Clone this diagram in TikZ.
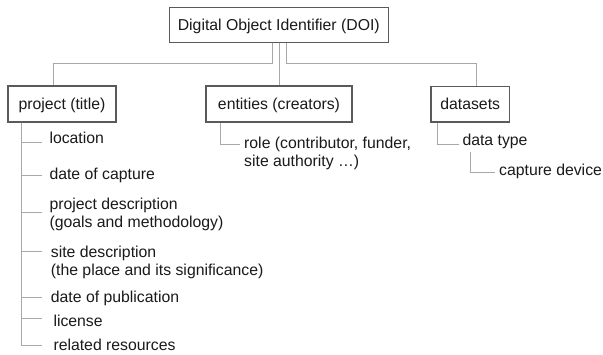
\documentclass[tikz,border=0pt]{standalone}
\usepackage{fontspec}
\setmainfont{Liberation Sans}
\definecolor{ink}{HTML}{1A1A1A}
\definecolor{boxgray}{HTML}{5A5A5A}
\definecolor{linegray}{HTML}{A8A8A8}
\begin{document}
\begin{tikzpicture}[x=1pt, y=-1pt,
  every node/.style={font=\fontsize{15.8pt}{18pt}\selectfont, text=ink},
  box/.style={draw=boxgray, line width=1.1pt, minimum height=36pt,
    inner sep=0pt, text height=12.5pt, text depth=2.5pt},
  item/.style={anchor=base west, inner sep=0pt, align=left},
  conn/.style={draw=linegray, line width=1pt}]
\useasboundingbox[fill=white] (0,0) rectangle (603,354);

% top-level boxes
\node[box, minimum width=219pt, minimum height=35.4pt] (doi) at (278.8,25) {Digital Object Identifier (DOI)};
\node[box, minimum width=108pt] (proj) at (62,104) {project (title)};
\node[box, minimum width=146pt] (ent) at (279,104) {entities (creators)};
\node[box, minimum width=78.5pt, minimum height=35.3pt] (data) at (470.2,104.3) {datasets};

% connectors from the DOI box
\coordinate (jy) at (0,63.5);
\coordinate (o1) at ([xshift=-6.5pt]doi.south);
\coordinate (o2) at ([xshift=0.5pt]doi.south);
\coordinate (o3) at ([xshift=7.2pt]doi.south);
\coordinate (pin) at ([xshift=-8.7pt]proj.north);
\coordinate (din) at ([xshift=6.5pt]data.north);
\draw[conn] (o1) -- (o1 |- jy) -| (pin);
\draw[conn] (o2) -- (o2 |- ent.north);
\draw[conn] (o3) -- (o3 |- jy) -| (din);

% project properties (multi-line items are placed by their last baseline)
\node[item] (loc)   at (49.3,143.7) {location};
\node[item] (cap)   at (49.3,179.3) {date of capture};
\node[item] (pdesc) at (49.3,227.3) {project description\\(goals and methodology)};
\node[item] (sdesc) at (50.7,275.7) {site description\\(the place and its significance)};
\node[item] (pub)   at (50.7,302.7) {date of publication};
\node[item] (lic)   at (53.3,326.7) {license};
\node[item] (rel)   at (53.3,350)   {related resources};

\coordinate (pstem) at ([xshift=13.7pt]proj.south west);
\draw[conn] (pstem) |- ([xshift=-7.6pt,yshift=1.4pt]loc.base west);
\draw[conn] (pstem) |- ([xshift=-7.6pt,yshift=4.3pt]cap.base west);
\draw[conn] (pstem) |- ([xshift=-7.6pt,yshift=14.6pt]pdesc.base west);
\draw[conn] (pstem) |- ([xshift=-9pt,yshift=24pt]sdesc.base west);
\draw[conn] (pstem) |- ([xshift=-9pt,yshift=5.4pt]pub.base west);
\draw[conn] (pstem) |- ([xshift=-11.6pt,yshift=8.4pt]lic.base west);
\draw[conn] (pstem) |- ([xshift=-11.6pt,yshift=5pt]rel.base west);

% entity role
\node[item] (role) at (244,166) {role (contributor, funder,\\site authority \dots)};
\coordinate (estem) at ([xshift=14.7pt]ent.south west);
\draw[conn] (estem) |- ([xshift=-4pt,yshift=22pt]role.base west);

% dataset properties
\node[item] (dtype) at (462.3,145) {data type};
\node[item] (cdev)  at (499,175)   {capture device};
\coordinate (dstem) at ([xshift=7.3pt]data.south west);
\draw[conn] (dstem) |- ([xshift=-3pt,yshift=1pt]dtype.base west);
\coordinate (tstem) at ([xshift=7.7pt,yshift=-6.7pt]dtype.base west);
\draw[conn] (tstem) |- ([xshift=-4pt,yshift=2.7pt]cdev.base west);
\end{tikzpicture}
\end{document}
